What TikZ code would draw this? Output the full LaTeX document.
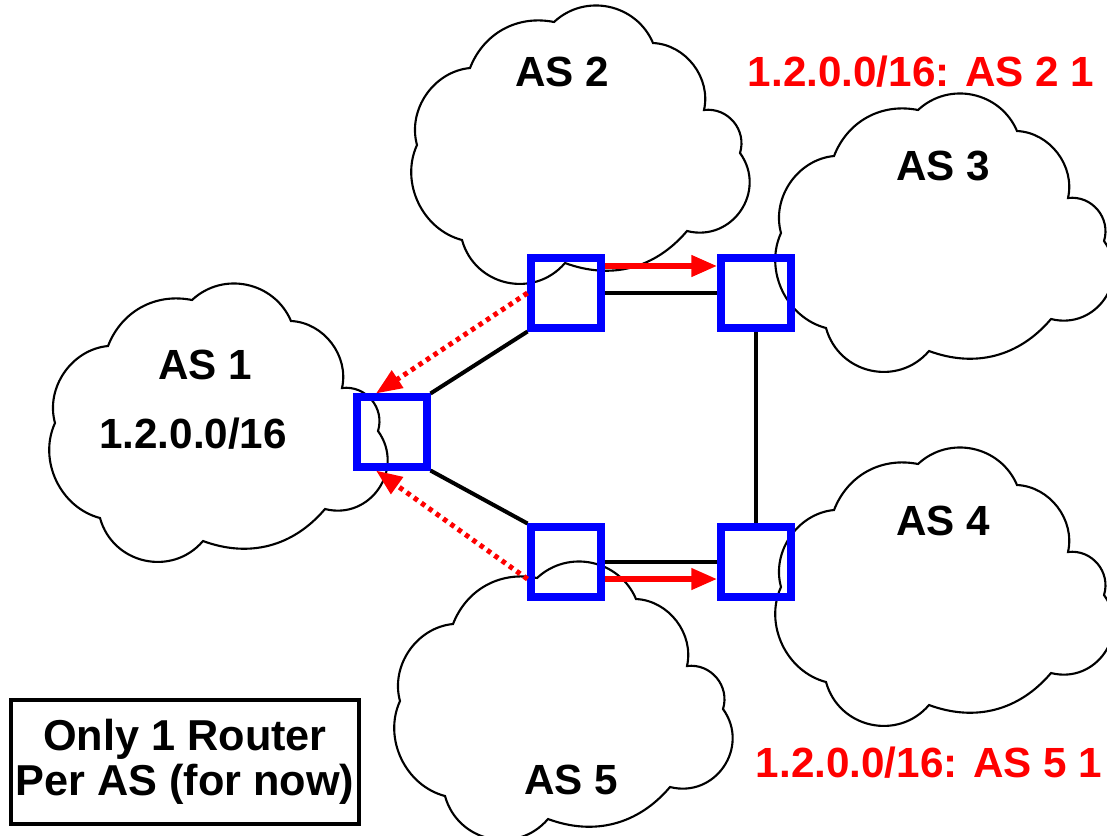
\documentclass[tikz,border=0pt]{standalone}
\usepackage{fontspec}
\setmainfont{Liberation Sans}
\usetikzlibrary{arrows.meta}

\newcommand{\ascloud}[1]{%
\draw[cloudline, shift={#1}] (63,-62) to[bend left=40] (147,-16)
  to[bend left=55, looseness=1.08] (246,-37) to[bend left=50] (297,-104)
  to[bend left=57, looseness=1.1] (333,-147) to[bend left=70, looseness=1.27] (280,-225)
  to[bend left=35] (158,-257) to[bend left=62, looseness=1.16] (55,-234)
  to[bend left=50] (10,-139) to[bend left=50] cycle;}

\begin{document}
\begin{tikzpicture}[x=0.01cm, y=0.01cm,
  cloudline/.style={line width=0.6pt, fill=white},
  router/.style={draw=blue, line width=0.08cm, minimum size=0.69cm, inner sep=0pt},
  link/.style={line width=0.04cm},
  advert/.style={red, line width=0.065cm, -{Triangle[length=0.26cm, width=0.2cm]}},
  dotline/.style={line width=0.05cm, dash pattern=on 0.045cm off 0.045cm},
  aslabel/.style={font=\fontsize{12}{13}\selectfont\bfseries, inner sep=0pt},
  route/.style={aslabel, red},
  note/.style={draw, line width=0.04cm, minimum width=3.48cm, minimum height=1.23cm, align=center, inner sep=0pt, font=\fontsize{12.3}{12.8}\selectfont\bfseries}]
\useasboundingbox (0,0) rectangle (1107,835);
\clip (0,0) rectangle (1107,835);

\ascloud{(407,829)}
\ascloud{(771,741)}
\ascloud{(45,551)}
\ascloud{(771,387)}
\ascloud{(390,273)}

\node[aslabel] (as2) at (562,763) {AS 2};
\node[aslabel] (as3) at (943,669) {AS 3};
\node[aslabel] (as1) at (205,470) {AS 1};
\node[aslabel] (pfx) at (193,401) {1.2.0.0/16};
\node[aslabel] (as4) at (943,314) {AS 4};
\node[aslabel] (as5) at (571,55) {AS 5};
\node[route] (rt3) at (921,763) {1.2.0.0/16: AS 2 1};
\node[route] (rt4) at (929,72) {1.2.0.0/16: AS 5 1};
\node[note] (note) at (185,73) {Only 1 Router\\Per AS (for now)};

\node[router] (r2) at (566,542) {};
\node[router] (r3) at (756,542) {};
\node[router] (r1) at (392,403) {};
\node[router] (r5) at (566,273) {};
\node[router] (r4) at (756,273) {};

\draw[link] (r2.east) -- (r3.west);
\draw[link] (r3.south) -- (r4.north);
\draw[link] (r5.east) -- (r4.west);
\draw[link] (r1.north east) -- (r2.south west);
\draw[link] (r1.south east) -- (r5.north west);

\draw[advert] ([yshift=0.27cm]r2.east) -- ([yshift=0.27cm]r3.west);
\draw[advert] ([yshift=-0.17cm]r5.east) -- ([yshift=-0.17cm]r4.west);
\draw[advert, dotline] (r2.west) -- ([xshift=-0.16cm]r1.north);
\draw[advert, dotline] ([yshift=-0.17cm]r5.west) -- ([xshift=-0.16cm]r1.south);
\end{tikzpicture}
\end{document}
